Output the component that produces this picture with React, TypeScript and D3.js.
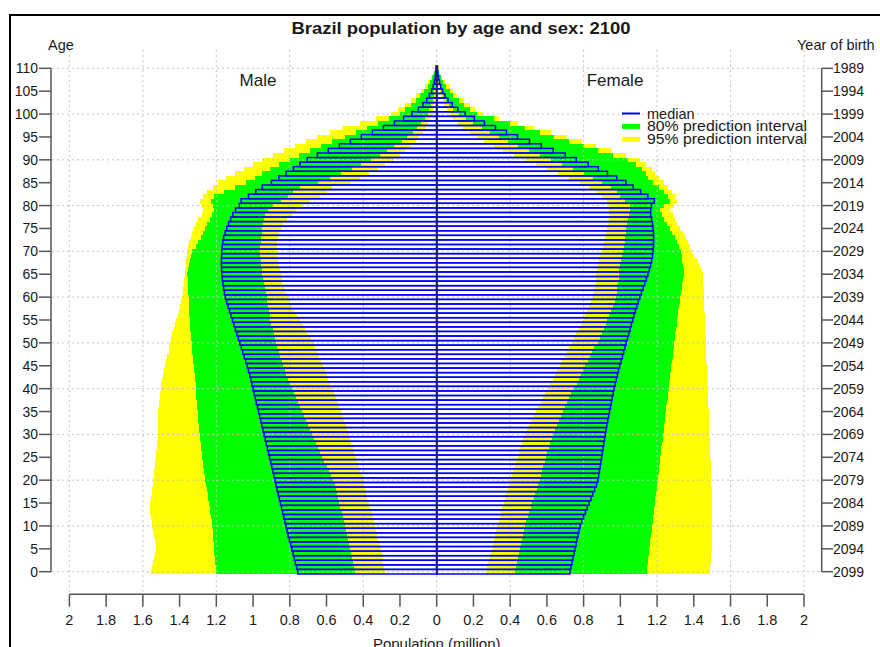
import React from 'react'
import * as d3 from 'd3'

// single-year ages shown on the pyramid
const ages = d3.range(0, 111)

// population in millions, age 0 .. 110
const maleMedian = [
  .757,.763,.770,.776,.782,.789,.795,.802,.809,.815,
  .821,.827,.833,.839,.845,.851,.857,.863,.869,.875,
  .880,.886,.892,.898,.904,.910,.916,.922,.928,.934,
  .940,.946,.952,.958,.964,.970,.976,.982,.988,.994,
  1.000,1.006,1.012,1.018,1.025,1.032,1.040,1.048,1.056,1.064,
  1.072,1.080,1.088,1.096,1.104,1.112,1.120,1.128,1.136,1.144,
  1.151,1.156,1.160,1.164,1.167,1.170,1.171,1.172,1.172,1.171,
  1.170,1.168,1.165,1.160,1.152,1.143,1.133,1.122,1.110,1.095,
  1.075,1.065,1.025,.985,.950,.900,.860,.820,.780,.745,
  .705,.650,.590,.530,.470,.410,.350,.290,.230,.180,
  .135,.100,.075,.055,.040,.028,.019,.013,.008,.005,.003
]
const maleU95 = [
  1.555,1.55,1.545,1.54,1.535,1.53,1.53,1.535,1.54,1.545,
  1.55,1.55,1.555,1.56,1.56,1.56,1.555,1.55,1.55,1.545,
  1.545,1.54,1.54,1.535,1.535,1.53,1.53,1.525,1.525,1.52,
  1.52,1.52,1.515,1.515,1.515,1.515,1.51,1.51,1.505,1.505,
  1.50,1.50,1.495,1.49,1.485,1.48,1.475,1.47,1.46,1.455,
  1.45,1.445,1.44,1.43,1.425,1.42,1.41,1.405,1.40,1.39,
  1.385,1.38,1.38,1.375,1.375,1.37,1.37,1.365,1.365,1.36,
  1.36,1.355,1.35,1.34,1.33,1.32,1.31,1.30,1.28,1.275,
  1.28,1.29,1.27,1.25,1.22,1.19,1.15,1.10,1.05,1.00,
  .95,.89,.83,.77,.71,.65,.58,.51,.42,.33,
  .25,.21,.17,.14,.11,.085,.065,.045,.03,.02,.01
]
const maleU80 = [
  1.20,1.202,1.205,1.207,1.21,1.212,1.215,1.217,1.22,1.22,
  1.222,1.225,1.228,1.232,1.236,1.24,1.244,1.248,1.252,1.256,
  1.26,1.264,1.268,1.272,1.275,1.278,1.28,1.283,1.286,1.288,
  1.29,1.292,1.295,1.298,1.30,1.302,1.304,1.306,1.308,1.31,
  1.31,1.312,1.315,1.318,1.32,1.322,1.325,1.328,1.33,1.333,
  1.335,1.337,1.34,1.342,1.344,1.345,1.347,1.348,1.349,1.35,
  1.35,1.352,1.353,1.355,1.356,1.357,1.355,1.35,1.345,1.34,
  1.33,1.31,1.30,1.285,1.27,1.26,1.25,1.235,1.222,1.215,
  1.22,1.23,1.21,1.16,1.10,1.04,.99,.95,.91,.86,
  .80,.75,.69,.63,.57,.50,.44,.38,.32,.26,
  .20,.17,.14,.11,.09,.07,.05,.035,.025,.015,.008
]
const maleL80 = [
  .445,.45,.455,.46,.467,.473,.479,.485,.49,.496,
  .50,.506,.512,.518,.524,.53,.537,.544,.55,.556,
  .563,.575,.587,.599,.611,.623,.635,.647,.659,.67,
  .68,.69,.70,.711,.722,.733,.744,.755,.766,.777,
  .788,.798,.808,.818,.827,.836,.845,.853,.861,.869,
  .876,.882,.888,.894,.90,.905,.91,.914,.918,.922,
  .925,.93,.935,.94,.945,.95,.953,.956,.958,.96,
  .96,.96,.958,.955,.952,.95,.946,.942,.935,.92,
  .89,.85,.81,.78,.745,.645,.58,.52,.46,.41,
  .36,.31,.27,.23,.19,.16,.13,.105,.085,.065,
  .05,.04,.03,.022,.016,.012,.008,.006,.004,.003,.002
]
const maleL95 = [
  .28,.285,.29,.295,.30,.305,.31,.318,.325,.33,
  .336,.342,.348,.355,.362,.37,.377,.384,.39,.395,
  .40,.408,.416,.424,.432,.44,.448,.456,.464,.472,
  .48,.488,.496,.504,.512,.52,.53,.54,.55,.56,
  .57,.58,.59,.60,.61,.62,.63,.64,.65,.66,
  .67,.685,.70,.715,.73,.745,.76,.775,.79,.80,
  .81,.82,.83,.84,.845,.85,.855,.86,.865,.868,
  .87,.87,.868,.865,.86,.85,.835,.815,.79,.765,
  .735,.69,.635,.60,.57,.47,.42,.37,.32,.28,
  .24,.20,.17,.14,.115,.095,.075,.06,.045,.035,
  .027,.02,.015,.011,.008,.006,.004,.003,.002,.001,.0005
]

const femaleMedian = [
  .726,.731,.737,.742,.748,.753,.759,.764,.77,.775,
  .781,.79,.80,.81,.82,.83,.84,.85,.86,.87,
  .878,.882,.886,.89,.894,.898,.902,.906,.91,.914,
  .918,.922,.926,.931,.936,.941,.946,.951,.956,.961,
  .966,.972,.978,.984,.99,.997,1.004,1.011,1.018,1.025,
  1.032,1.039,1.046,1.053,1.06,1.067,1.074,1.082,1.09,1.098,
  1.106,1.115,1.124,1.133,1.142,1.15,1.158,1.165,1.17,1.175,
  1.178,1.18,1.181,1.181,1.18,1.178,1.175,1.17,1.165,1.165,
  1.17,1.185,1.15,1.11,1.07,1.03,.98,.93,.88,.825,
  .76,.70,.635,.57,.505,.44,.38,.32,.26,.205,
  .155,.115,.085,.062,.045,.032,.022,.015,.01,.006,.004
]
const femaleU95 = [
  1.488,1.49,1.492,1.494,1.496,1.497,1.498,1.499,1.50,1.50,
  1.50,1.50,1.50,1.50,1.50,1.50,1.50,1.498,1.497,1.496,
  1.495,1.494,1.493,1.492,1.491,1.49,1.489,1.488,1.487,1.486,
  1.485,1.484,1.483,1.482,1.481,1.48,1.479,1.478,1.477,1.476,
  1.475,1.474,1.473,1.472,1.471,1.47,1.469,1.468,1.467,1.466,
  1.465,1.464,1.463,1.462,1.461,1.46,1.459,1.458,1.457,1.456,
  1.455,1.454,1.453,1.452,1.451,1.45,1.44,1.43,1.415,1.40,
  1.39,1.38,1.37,1.355,1.34,1.325,1.31,1.30,1.285,1.27,
  1.29,1.31,1.30,1.28,1.26,1.235,1.21,1.19,1.17,1.14,
  1.107,1.03,.95,.87,.79,.71,.62,.53,.44,.34,
  .25,.21,.18,.15,.11,.09,.07,.045,.03,.02,.01
]
const femaleU80 = [
  1.143,1.146,1.149,1.152,1.155,1.158,1.161,1.164,1.167,1.17,
  1.173,1.176,1.179,1.182,1.185,1.188,1.191,1.194,1.197,1.20,
  1.203,1.206,1.209,1.212,1.215,1.218,1.221,1.224,1.227,1.23,
  1.233,1.236,1.239,1.242,1.245,1.248,1.251,1.254,1.257,1.26,
  1.263,1.266,1.269,1.272,1.275,1.278,1.281,1.284,1.287,1.29,
  1.293,1.296,1.30,1.303,1.306,1.31,1.313,1.316,1.32,1.323,
  1.326,1.33,1.334,1.338,1.342,1.346,1.345,1.342,1.338,1.334,
  1.33,1.32,1.31,1.295,1.28,1.27,1.255,1.24,1.225,1.215,
  1.24,1.27,1.26,1.24,1.21,1.18,1.15,1.14,1.12,1.085,
  1.04,.96,.88,.80,.72,.64,.56,.48,.40,.31,
  .22,.18,.15,.12,.09,.07,.05,.035,.022,.014,.007
]
const femaleL80 = [
  .426,.431,.436,.441,.446,.451,.457,.463,.469,.475,
  .48,.488,.496,.504,.512,.52,.528,.536,.544,.552,
  .56,.567,.574,.581,.588,.595,.603,.611,.619,.627,
  .635,.646,.657,.668,.679,.69,.701,.712,.723,.734,
  .75,.762,.774,.786,.798,.81,.822,.834,.846,.858,
  .88,.89,.90,.91,.92,.93,.94,.95,.96,.97,
  .975,.98,.984,.988,.99,.99,.995,1.0,1.005,1.01,
  1.015,1.02,1.025,1.028,1.03,1.032,1.035,1.04,1.045,1.05,
  1.05,1.025,1.0,.98,.95,.90,.85,.80,.74,.68,
  .62,.56,.50,.44,.39,.34,.29,.245,.20,.16,
  .12,.09,.068,.05,.036,.026,.018,.012,.008,.005,.003
]
const femaleL95 = [
  .27,.276,.282,.288,.294,.30,.306,.312,.318,.324,
  .33,.337,.344,.351,.358,.365,.372,.379,.386,.393,
  .40,.408,.416,.424,.432,.44,.448,.456,.464,.472,
  .48,.492,.504,.516,.528,.54,.553,.566,.579,.592,
  .605,.618,.631,.644,.657,.67,.683,.696,.709,.722,
  .735,.748,.761,.774,.787,.80,.81,.82,.83,.84,
  .85,.855,.86,.865,.868,.87,.875,.88,.885,.89,
  .90,.905,.91,.915,.92,.93,.935,.94,.94,.94,
  .94,.925,.90,.87,.83,.78,.72,.66,.60,.54,
  .48,.42,.36,.31,.26,.22,.18,.145,.115,.09,
  .07,.055,.042,.032,.024,.018,.013,.009,.006,.004,.002
]

// axis labels
const ageTicks = [0, 5, 10, 15, 20, 25, 30, 35, 40, 45, 50, 55, 60, 65, 70, 75, 80, 85, 90, 95, 100, 105, 110]
const birthYears = ['2099', '2094', '2089', '2084', '2079', '2074', '2069', '2064', '2059', '2054', '2049', '2044',
  '2039', '2034', '2029', '2024', '2019', '2014', '2009', '2004', '1999', '1994', '1989']
const popTicks = [-2, -1.8, -1.6, -1.4, -1.2, -1, -0.8, -0.6, -0.4, -0.2, 0, 0.2, 0.4, 0.6, 0.8, 1, 1.2, 1.4, 1.6, 1.8, 2]
const gridPop = [-2, -1.6, -1.2, -0.8, -0.4, 0, 0.4, 0.8, 1.2, 1.6, 2]
const gridAges = [0, 10, 20, 30, 40, 50, 60, 70, 80, 90, 100, 110]

const legendItems = [
  { label: 'median', color: '#0000ff', width: 2 },
  { label: '80% prediction interval', color: '#00ff00', width: 5 },
  { label: '95% prediction interval', color: '#ffff00', width: 5 }
]

const font = '"Liberation Sans", Arial, Helvetica, sans-serif'
const textCol = '#1a1a1a'
const axisCol = '#555'

export default function App() {
  const x = d3.scaleLinear().domain([-2, 2]).range([69.4, 804])
  const y = d3.scaleLinear().domain([0, 110]).range([571.7, 68.3])
  const rowH = y(0) - y(1)
  const rowTop = (a: number) => y(a) - rowH / 2

  // one filled rect per age on one side (sign -1 male, +1 female)
  const bars = (vals: number[], sign: number, fill: string, key: string) =>
    vals.map((v, i) => {
      const x0 = x(0), x1 = x(sign * v)
      return (
        <rect key={key + i} x={Math.min(x0, x1)} y={rowTop(ages[i])} width={Math.abs(x1 - x0)}
          height={rowH + 0.4} fill={fill} />
      )
    })

  const outlines = (vals: number[], sign: number, key: string) =>
    vals.map((v, i) => {
      const x0 = x(0), x1 = x(sign * v)
      return (
        <rect key={key + i} x={Math.min(x0, x1)} y={rowTop(ages[i])} width={Math.abs(x1 - x0)}
          height={rowH} fill="none" stroke="#0000ff" strokeWidth={1.5} />
      )
    })

  return (
    <svg width={880} height={647} style={{ position: 'absolute', left: 0, top: 0 }} fontFamily={font}>
      <rect x={0} y={0} width={880} height={647} fill="#fff" />
      <rect x={10} y={15} width={900} height={700} fill="none" stroke="#000" strokeWidth={2} />

      <text x={461} y={34} textAnchor="middle" fontWeight="bold" fontSize={16.5} fill={textCol}
        textLength={339} lengthAdjust="spacingAndGlyphs">Brazil population by age and sex: 2100</text>
      <text x={48} y={50} fontSize={14.5} fill={textCol}>Age</text>
      <text x={797} y={50} fontSize={14.5} fill={textCol}>Year of birth</text>

      {/* interval bands */}
      <g shapeRendering="crispEdges">
        {bars(maleU95, -1, '#ffff00', 'mu95')}
        {bars(femaleU95, 1, '#ffff00', 'fu95')}
        {bars(maleU80, -1, '#00ff00', 'mu80')}
        {bars(femaleU80, 1, '#00ff00', 'fu80')}
        {bars(maleL80, -1, '#ffff00', 'ml80')}
        {bars(femaleL80, 1, '#ffff00', 'fl80')}
        {bars(maleL95, -1, '#ffffff', 'ml95')}
        {bars(femaleL95, 1, '#ffffff', 'fl95')}
      </g>

      {/* grid */}
      <g stroke="#c4c4c4" strokeWidth={1} strokeDasharray="2,3">
        {gridPop.map(p => (
          <line key={'gx' + p} x1={x(p)} x2={x(p)} y1={50} y2={594} />
        ))}
        {gridAges.map(a => (
          <line key={'gy' + a} x1={52} x2={821} y1={y(a)} y2={y(a)} />
        ))}
      </g>

      {/* medians */}
      {outlines(maleMedian, -1, 'mm')}
      {outlines(femaleMedian, 1, 'fm')}
      <line x1={x(0)} x2={x(0)} y1={rowTop(110)} y2={rowTop(0) + rowH} stroke="#1c1c6a" strokeWidth={1.8} />

      <text x={258} y={86} textAnchor="middle" fontSize={17} fill={textCol}>Male</text>
      <text x={615} y={86} textAnchor="middle" fontSize={17} fill={textCol}>Female</text>

      {/* legend */}
      {legendItems.map((d, i) => (
        <g key={d.label}>
          <line x1={622} x2={640} y1={113.5 + i * 12.9} y2={113.5 + i * 12.9} stroke={d.color} strokeWidth={d.width} />
          <text x={647} y={118.5 + i * 12.9} fontSize={14.5} fill={textCol}
            textLength={d.label.length > 6 ? 160 : undefined} lengthAdjust="spacingAndGlyphs">{d.label}</text>
        </g>
      ))}

      {/* axes */}
      <g stroke={axisCol} strokeWidth={1.5}>
        <line x1={51} x2={51} y1={y(0)} y2={y(110)} />
        {ageTicks.map(a => <line key={'lt' + a} x1={39} x2={51} y1={y(a)} y2={y(a)} />)}
        <line x1={821.7} x2={821.7} y1={y(0)} y2={y(110)} />
        {ageTicks.map(a => <line key={'rt' + a} x1={821.7} x2={833} y1={y(a)} y2={y(a)} />)}
        <line x1={x(-2)} x2={x(2)} y1={594.3} y2={594.3} />
        {popTicks.map(p => <line key={'bt' + p} x1={x(p)} x2={x(p)} y1={594.3} y2={606.7} />)}
      </g>
      {ageTicks.map(a => (
        <text key={'ll' + a} x={38} y={y(a) + 5} textAnchor="end" fontSize={14} fill={textCol}>{a}</text>
      ))}
      {ageTicks.map((a, i) => (
        <text key={'rl' + a} x={833} y={y(a) + 5} fontSize={14} fill={textCol}>{birthYears[i]}</text>
      ))}
      {popTicks.map(p => (
        <text key={'bl' + p} x={x(p)} y={625} textAnchor="middle" fontSize={14.5} fill={textCol}>{Math.abs(p)}</text>
      ))}
      <text x={x(0)} y={649} textAnchor="middle" fontSize={15} fill={textCol}>Population (million)</text>
    </svg>
  )
}
